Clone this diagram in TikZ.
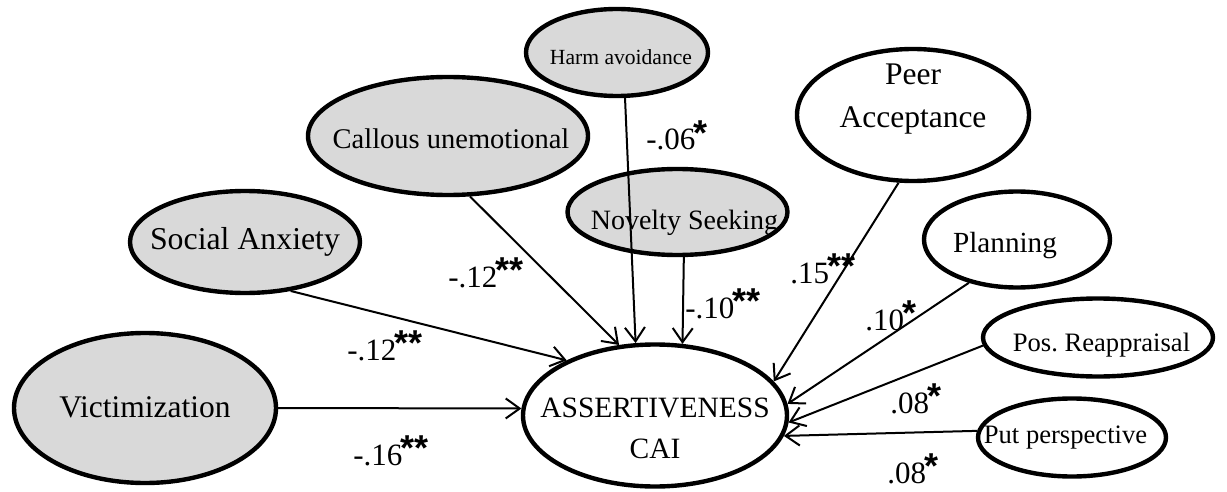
\documentclass[tikz,border=0pt]{standalone}
\usepackage{fontspec}
\setmainfont{Liberation Serif}
\setsansfont{Liberation Sans}
\usetikzlibrary{shapes.geometric,arrows.meta}
\definecolor{latentfill}{HTML}{D9D9D9}
% text placed inside an ellipse: horizontal shift, drop of the last baseline below centre, content
\newcommand\nodetext[3]{\kern#1\makebox[0pt]{\raisebox{-#2}[0pt][0pt]{#3}}\kern-#1}
\newcommand\twolines[2]{\begin{tabular}[b]{@{}c@{}}#1\\#2\end{tabular}}
\newcommand\sigstars[1]{\kern-1pt\raisebox{2.2pt}{\sffamily\bfseries\fontsize{18}{18}\selectfont #1}}
\begin{document}
\begin{tikzpicture}[x=0.5pt,y=-0.5pt,
  latent/.style={ellipse,draw,line width=2.2pt,fill=latentfill,inner sep=0pt},
  observed/.style={ellipse,draw,line width=2.2pt,fill=white,inner sep=0pt},
  effect/.style={-{Straight Barb[length=7pt,width=10pt]},line width=1pt},
  coef/.style={anchor=base west,inner sep=0pt,font=\fontsize{15.5}{18}\selectfont}]
\useasboundingbox (0,0) rectangle (1227,492);

% predictors
\node[latent,minimum width=131pt,minimum height=75pt,font=\fontsize{15.75}{19}\selectfont]
  (vic) at (145,408) {\nodetext{0pt}{4.5pt}{Victimization}};
\node[latent,minimum width=115pt,minimum height=51pt,font=\fontsize{15.9}{19}\selectfont]
  (soc) at (245,242) {\nodetext{0pt}{4pt}{Social Anxiety}};
\node[latent,minimum width=140pt,minimum height=59pt,font=\fontsize{14.25}{17}\selectfont]
  (cal) at (448,136) {\nodetext{1.5pt}{6pt}{Callous unemotional}};
\node[latent,minimum width=91pt,minimum height=43.5pt,font=\fontsize{10.8}{13}\selectfont]
  (harm) at (617,52.5) {\nodetext{2pt}{6.25pt}{Harm avoidance}};
\node[latent,minimum width=110pt,minimum height=43pt,font=\fontsize{14}{17}\selectfont]
  (nov) at (677.5,212) {\nodetext{3.5pt}{9pt}{Novelty Seeking}};
\node[observed,minimum width=116pt,minimum height=66pt,font=\fontsize{15.75}{21.5}\selectfont]
  (peer) at (913,115) {\nodetext{0pt}{6.5pt}{\twolines{Peer}{Acceptance}}};
\node[observed,minimum width=93pt,minimum height=48pt,font=\fontsize{14.6}{17}\selectfont]
  (plan) at (1017,239.5) {\nodetext{-6pt}{6.25pt}{Planning}};
\node[observed,minimum width=115pt,minimum height=39pt,font=\fontsize{13.3}{16}\selectfont]
  (reap) at (1098,337.5) {\nodetext{1.75pt}{6.75pt}{Pos.\ Reappraisal}};
\node[observed,minimum width=94pt,minimum height=39pt,font=\fontsize{13.3}{16}\selectfont]
  (persp) at (1072,437.5) {\nodetext{-3.25pt}{2.75pt}{Put perspective}};

% outcome
\node[observed,minimum width=132pt,minimum height=71pt,font=\fontsize{14.75}{20.5}\selectfont]
  (ass) at (655,415.5) {\nodetext{0pt}{21.25pt}{\twolines{ASSERTIVENESS}{CAI}}};

% paths
\draw[effect] (vic.0)      -- (ass.177);
\draw[effect] (soc.-47)    -- (ass.148);
\draw[effect] (cal.-70)    -- (ass.117);
\draw[effect] (harm.-80)   -- (ass.105);
\draw[effect] (nov.-82)    -- (ass.69);
\draw[effect] (peer.-102)  -- (ass.16.7);
\draw[effect] (plan.-138.7) -- (ass.5.6);
\draw[effect] (reap.184.7) -- (ass.-3.1);
\draw[effect] (persp.176.7) -- (ass.-9.6);

% path coefficients
\node[coef] (cvic)   at (353,465) {-.16\sigstars{**}};
\node[coef] (csoc)   at (347,360) {-.12\sigstars{**}};
\node[coef] (ccal)   at (448,287) {-.12\sigstars{**}};
\node[coef] (charm)  at (646,150) {-.06\sigstars{*}};
\node[coef] (cnov)   at (685,318) {-.10\sigstars{**}};
\node[coef] (cpeer)  at (790,283) {.15\sigstars{**}};
\node[coef] (cplan)  at (865,330) {.10\sigstars{*}};
\node[coef] (creap)  at (890,413) {.08\sigstars{*}};
\node[coef] (cpersp) at (887,483) {.08\sigstars{*}};
\end{tikzpicture}
\end{document}
